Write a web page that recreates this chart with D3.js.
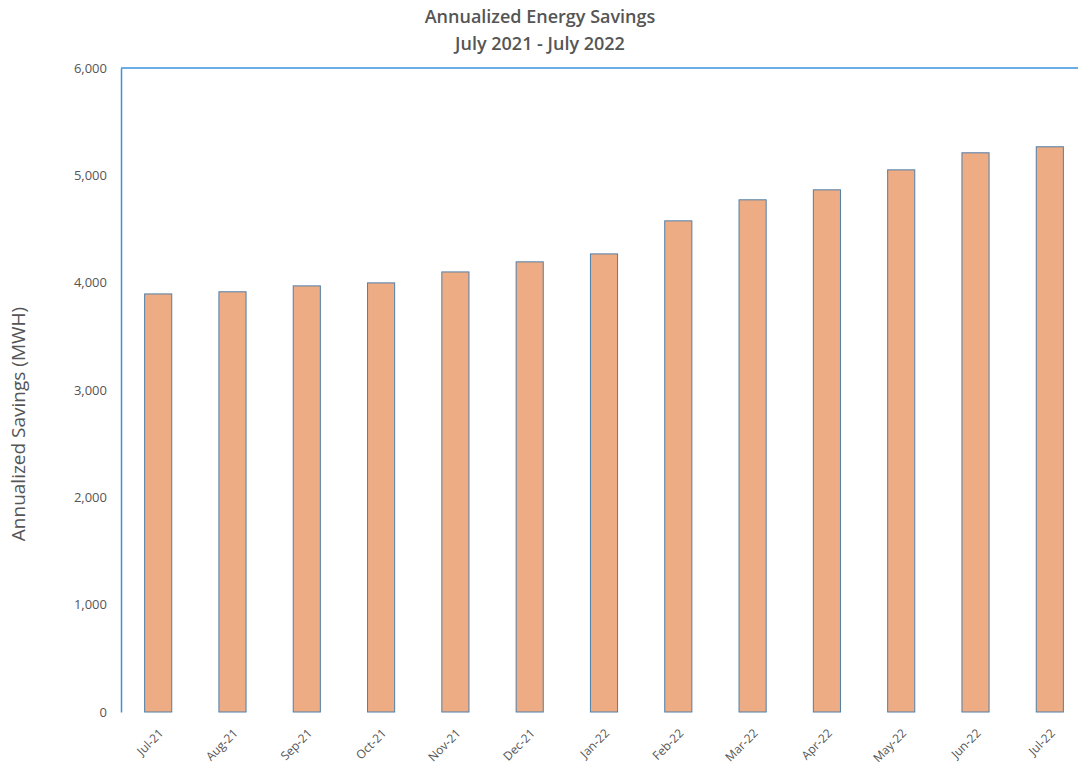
<!DOCTYPE html>
<html>
<head>
<meta charset="utf-8">
<script src="https://cdn.jsdelivr.net/npm/d3@7"></script>
<style>
  body { margin: 0; background: #fff; }
  text { font-family: "Open Sans", Lato, sans-serif; }
</style>
</head>
<body>
<div id="chart-area"></div>
<script>
// data
let months = ["Jul-21", "Aug-21", "Sep-21", "Oct-21", "Nov-21", "Dec-21", "Jan-22",
              "Feb-22", "Mar-22", "Apr-22", "May-22", "Jun-22", "Jul-22"];
let savings = [3895, 3915, 3970, 3998, 4100, 4194, 4268, 4576, 4772, 4865, 5051, 5210, 5266];
let yTicks = [0, 1000, 2000, 3000, 4000, 5000, 6000];

let margin = {top: 68, right: -9, bottom: 55, left: 121},
    width = 1078 - margin.left - margin.right,
    height = 767 - margin.top - margin.bottom;

let svg = d3.select("#chart-area")
    .append("svg")
    .attr("width", 1078)
    .attr("height", 767);
let g = svg.append("g")
    .attr("transform", "translate(" + margin.left + "," + margin.top + ")");

let x = d3.scaleBand()
    .domain(months)
    .range([0, width])
    .paddingInner(0.635)
    .paddingOuter(0.318);

let y = d3.scaleLinear()
    .domain([0, 6000])
    .range([height, 0]);

// bars
g.selectAll("rect.bar")
    .data(months)
    .enter()
    .append("rect")
    .attr("class", "bar")
    .attr("x", d => x(d))
    .attr("y", (d, i) => y(savings[i]))
    .attr("width", x.bandwidth())
    .attr("height", (d, i) => height - y(savings[i]))
    .style("fill", "#eeac84")
    .style("stroke", "#4f7fa8")
    .style("stroke-width", 1);

// y axis
let yAxis = g.append("g")
    .call(d3.axisLeft(y).tickValues(yTicks).tickSize(0).tickPadding(14).tickFormat(d3.format(",")));
yAxis.select(".domain").attr("stroke", "#3a93dd").attr("stroke-width", 1.5);
yAxis.selectAll("text").style("font-size", "13px").style("fill", "#555");

// top frame line
g.append("line")
    .attr("x1", 0).attr("x2", width)
    .attr("y1", y(6000)).attr("y2", y(6000))
    .attr("stroke", "#3a93dd").attr("stroke-width", 1.5);

// x axis labels
let xAxis = g.append("g")
    .attr("transform", "translate(0," + height + ")")
    .call(d3.axisBottom(x).tickSize(0).tickPadding(0));
xAxis.select(".domain").remove();
xAxis.selectAll("text")
    .style("font-size", "12px")
    .style("fill", "#555")
    .attr("text-anchor", "end")
    .attr("dy", 0)
    .attr("transform", "translate(6,22) rotate(-45)");

// titles
svg.append("text")
    .attr("x", 540).attr("y", 23)
    .attr("text-anchor", "middle")
    .style("font-size", "18px").style("font-weight", "600").style("fill", "#555")
    .text("Annualized Energy Savings");
svg.append("text")
    .attr("x", 540).attr("y", 50)
    .attr("text-anchor", "middle")
    .style("font-size", "18px").style("font-weight", "600").style("fill", "#555")
    .text("July 2021 - July 2022");

svg.append("text")
    .attr("transform", "translate(25,424) rotate(-90)")
    .attr("text-anchor", "middle")
    .style("font-size", "19px").style("fill", "#555")
    .text("Annualized Savings (MWH)");
</script>
</body>
</html>
